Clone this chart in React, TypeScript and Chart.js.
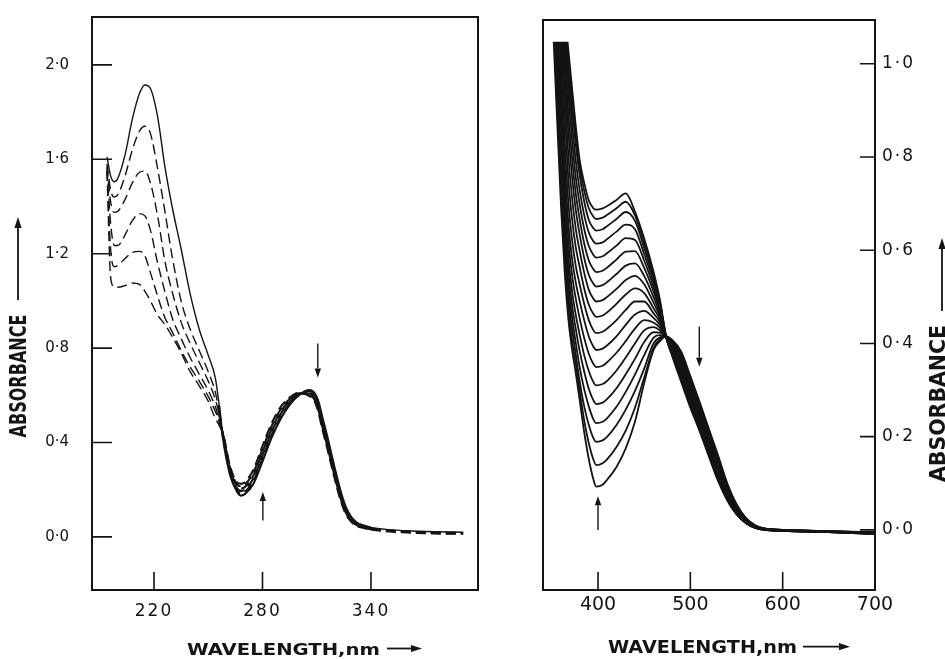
import React, { useEffect, useRef } from 'react';
import { Chart, registerables } from 'chart.js';

Chart.register(...registerables);

const INK = '#141414';
const FONT = '"DejaVu Sans", sans-serif';

// ---------------- Left panel (UV region) ----------------
const L_WAVELENGTHS = [194, 196, 198, 200, 204, 208, 212, 215, 218, 222, 226, 230, 235, 240, 245, 250, 254, 256, 258, 262, 266, 268, 270, 275, 280, 285, 290, 295, 300, 306, 309, 311, 313, 316, 320, 323, 326, 329, 332, 336, 340, 350, 360, 375, 391];
const L_SOLID = [1.61, 1.53, 1.505, 1.52, 1.62, 1.77, 1.88, 1.915, 1.90, 1.78, 1.57, 1.40, 1.22, 1.03, 0.88, 0.77, 0.67, 0.56, 0.425, 0.265, 0.19, 0.175, 0.18, 0.225, 0.32, 0.42, 0.50, 0.56, 0.60, 0.622, 0.607, 0.572, 0.51, 0.42, 0.29, 0.20, 0.128, 0.085, 0.062, 0.048, 0.040, 0.031, 0.026, 0.022, 0.020];
const L_DASH_1 = [1.58, 1.47, 1.44, 1.45, 1.53, 1.64, 1.72, 1.74, 1.71, 1.56, 1.38, 1.19, 1.00, 0.88, 0.79, 0.70, 0.61, 0.53, 0.43, 0.272, 0.198, 0.185, 0.19, 0.237, 0.333, 0.432, 0.51, 0.566, 0.602, 0.617, 0.600, 0.563, 0.50, 0.41, 0.281, 0.192, 0.122, 0.081, 0.059, 0.046, 0.038, 0.029, 0.024, 0.020, 0.018];
const L_DASH_2 = [1.57, 1.42, 1.375, 1.38, 1.43, 1.50, 1.545, 1.55, 1.50, 1.36, 1.17, 1.04, 0.91, 0.82, 0.74, 0.66, 0.58, 0.52, 0.435, 0.279, 0.206, 0.195, 0.20, 0.249, 0.346, 0.444, 0.52, 0.572, 0.604, 0.612, 0.593, 0.554, 0.49, 0.40, 0.272, 0.184, 0.116, 0.077, 0.056, 0.044, 0.036, 0.028, 0.023, 0.019, 0.017];
const L_DASH_3 = [1.56, 1.33, 1.235, 1.235, 1.28, 1.34, 1.37, 1.36, 1.30, 1.16, 1.04, 0.93, 0.84, 0.76, 0.69, 0.62, 0.55, 0.50, 0.438, 0.286, 0.214, 0.205, 0.21, 0.261, 0.359, 0.456, 0.53, 0.578, 0.606, 0.607, 0.586, 0.545, 0.48, 0.39, 0.263, 0.176, 0.11, 0.073, 0.053, 0.042, 0.034, 0.026, 0.021, 0.017, 0.015];
const L_DASH_4 = [1.55, 1.22, 1.145, 1.15, 1.18, 1.205, 1.21, 1.19, 1.12, 1.02, 0.93, 0.87, 0.79, 0.72, 0.66, 0.595, 0.53, 0.49, 0.441, 0.293, 0.222, 0.215, 0.22, 0.273, 0.372, 0.468, 0.54, 0.584, 0.608, 0.602, 0.579, 0.536, 0.47, 0.38, 0.254, 0.168, 0.104, 0.069, 0.05, 0.040, 0.032, 0.024, 0.019, 0.015, 0.013];
const L_DASH_5 = [1.55, 1.10, 1.06, 1.058, 1.065, 1.076, 1.07, 1.04, 1.00, 0.94, 0.90, 0.85, 0.78, 0.70, 0.64, 0.575, 0.50, 0.475, 0.444, 0.30, 0.23, 0.225, 0.23, 0.285, 0.385, 0.48, 0.55, 0.59, 0.61, 0.597, 0.572, 0.527, 0.46, 0.37, 0.245, 0.16, 0.098, 0.065, 0.047, 0.038, 0.030, 0.022, 0.017, 0.013, 0.012];
const L_X_TICKS = [220, 280, 340];
const L_Y_TICKS = [0, 0.4, 0.8, 1.2, 1.6, 2.0];
const L_ARROW_WL = [310.6, 280.2];
const L_ARROW_FROM = [0.82, 0.07];
const L_ARROW_TO = [0.675, 0.19];

// ---------------- Right panel (visible region) ----------------
const R_WAVELENGTHS = [360, 364, 368, 372, 376, 380, 385, 390, 395, 398, 405, 410, 420, 430, 440, 450, 460, 467, 474, 480, 490, 500, 510, 520, 530, 540, 550, 560, 570, 580, 600, 650, 700];
const R_START_WL = [352, 353, 354, 355, 355.5, 356, 357, 358, 359, 360, 361, 362, 362.5, 363.5, 364.5, 365, 366, 367];
const R_CAP = 1.047;
const R_SCAN_00 = [0.69, 0.55, 0.45, 0.385, 0.335, 0.28, 0.21, 0.152, 0.108, 0.093, 0.097, 0.108, 0.135, 0.175, 0.232, 0.315, 0.385, 0.405, 0.415, 0.408, 0.383, 0.330, 0.275, 0.217, 0.160, 0.100, 0.055, 0.026, 0.010, 0.003, 0.000, -0.003, -0.005];
const R_SCAN_01 = [0.725, 0.58, 0.475, 0.405, 0.355, 0.30, 0.235, 0.186, 0.151, 0.139, 0.143, 0.152, 0.178, 0.213, 0.262, 0.327, 0.39, 0.409, 0.415, 0.406, 0.379, 0.326, 0.271, 0.214, 0.157, 0.098, 0.054, 0.025, 0.010, 0.003, 0.000, -0.003, -0.005];
const R_SCAN_02 = [0.76, 0.61, 0.50, 0.43, 0.375, 0.32, 0.265, 0.225, 0.197, 0.189, 0.192, 0.20, 0.225, 0.258, 0.298, 0.346, 0.40, 0.413, 0.415, 0.404, 0.375, 0.322, 0.268, 0.210, 0.154, 0.096, 0.052, 0.025, 0.009, 0.003, 0.000, -0.003, -0.006];
const R_SCAN_03 = [0.79, 0.635, 0.525, 0.455, 0.40, 0.35, 0.302, 0.265, 0.237, 0.229, 0.232, 0.24, 0.264, 0.296, 0.333, 0.375, 0.412, 0.418, 0.414, 0.402, 0.372, 0.318, 0.264, 0.207, 0.150, 0.093, 0.051, 0.024, 0.009, 0.002, 0.000, -0.003, -0.006];
const R_SCAN_04 = [0.82, 0.665, 0.555, 0.48, 0.43, 0.385, 0.34, 0.303, 0.278, 0.270, 0.273, 0.281, 0.304, 0.334, 0.367, 0.403, 0.424, 0.423, 0.414, 0.400, 0.368, 0.314, 0.260, 0.203, 0.147, 0.091, 0.050, 0.023, 0.009, 0.002, 0.000, -0.003, -0.006];
const R_SCAN_05 = [0.86, 0.70, 0.585, 0.51, 0.46, 0.42, 0.375, 0.341, 0.317, 0.310, 0.313, 0.32, 0.342, 0.37, 0.40, 0.428, 0.435, 0.428, 0.414, 0.398, 0.364, 0.310, 0.257, 0.200, 0.144, 0.089, 0.049, 0.022, 0.008, 0.002, -0.001, -0.003, -0.006];
const R_SCAN_06 = [0.91, 0.74, 0.62, 0.545, 0.495, 0.455, 0.412, 0.378, 0.356, 0.349, 0.352, 0.36, 0.38, 0.405, 0.432, 0.45, 0.445, 0.434, 0.413, 0.396, 0.360, 0.306, 0.253, 0.196, 0.141, 0.087, 0.047, 0.022, 0.008, 0.002, -0.001, -0.004, -0.007];
const R_SCAN_07 = [0.95, 0.78, 0.655, 0.58, 0.53, 0.492, 0.45, 0.415, 0.393, 0.386, 0.389, 0.396, 0.415, 0.44, 0.462, 0.47, 0.455, 0.44, 0.413, 0.394, 0.356, 0.302, 0.249, 0.193, 0.138, 0.085, 0.046, 0.021, 0.008, 0.002, -0.001, -0.004, -0.007];
const R_SCAN_08 = [1.0, 0.83, 0.70, 0.62, 0.565, 0.528, 0.485, 0.45, 0.428, 0.422, 0.425, 0.432, 0.45, 0.472, 0.49, 0.49, 0.465, 0.446, 0.413, 0.392, 0.352, 0.298, 0.245, 0.189, 0.134, 0.082, 0.045, 0.020, 0.007, 0.002, -0.001, -0.004, -0.007];
const R_SCAN_09 = [null, 0.89, 0.75, 0.665, 0.605, 0.565, 0.518, 0.483, 0.463, 0.457, 0.46, 0.467, 0.485, 0.505, 0.518, 0.508, 0.476, 0.452, 0.412, 0.390, 0.349, 0.294, 0.242, 0.186, 0.131, 0.080, 0.043, 0.020, 0.007, 0.001, -0.001, -0.004, -0.007];
const R_SCAN_10 = [null, 0.94, 0.80, 0.71, 0.645, 0.60, 0.552, 0.515, 0.496, 0.490, 0.493, 0.50, 0.517, 0.536, 0.545, 0.527, 0.488, 0.458, 0.412, 0.389, 0.345, 0.290, 0.238, 0.182, 0.128, 0.078, 0.042, 0.019, 0.007, 0.001, -0.001, -0.004, -0.008];
const R_SCAN_11 = [null, 0.985, 0.85, 0.755, 0.685, 0.635, 0.584, 0.547, 0.528, 0.522, 0.525, 0.532, 0.549, 0.567, 0.572, 0.545, 0.50, 0.464, 0.412, 0.387, 0.341, 0.286, 0.234, 0.179, 0.125, 0.076, 0.041, 0.018, 0.006, 0.001, -0.001, -0.004, -0.008];
const R_SCAN_12 = [null, 1.01, 0.89, 0.795, 0.72, 0.668, 0.615, 0.578, 0.559, 0.553, 0.556, 0.563, 0.58, 0.597, 0.598, 0.562, 0.512, 0.47, 0.412, 0.385, 0.337, 0.282, 0.231, 0.175, 0.121, 0.074, 0.039, 0.018, 0.006, 0.001, -0.002, -0.004, -0.008];
const R_SCAN_13 = [null, 1.03, 0.93, 0.835, 0.755, 0.70, 0.646, 0.609, 0.59, 0.584, 0.587, 0.594, 0.61, 0.626, 0.622, 0.578, 0.522, 0.475, 0.412, 0.383, 0.333, 0.278, 0.227, 0.172, 0.118, 0.072, 0.038, 0.017, 0.006, 0.001, -0.002, -0.004, -0.008];
const R_SCAN_14 = [null, null, 0.96, 0.87, 0.79, 0.73, 0.676, 0.638, 0.619, 0.614, 0.617, 0.624, 0.64, 0.655, 0.645, 0.592, 0.532, 0.48, 0.412, 0.381, 0.330, 0.274, 0.223, 0.168, 0.115, 0.069, 0.037, 0.016, 0.005, 0.001, -0.002, -0.005, -0.008];
const R_SCAN_15 = [null, null, 0.985, 0.90, 0.825, 0.762, 0.705, 0.665, 0.647, 0.642, 0.645, 0.652, 0.667, 0.682, 0.663, 0.605, 0.54, 0.485, 0.412, 0.379, 0.326, 0.270, 0.220, 0.165, 0.112, 0.067, 0.035, 0.016, 0.005, 0.000, -0.002, -0.005, -0.009];
const R_SCAN_16 = [null, null, 1.007, 0.925, 0.845, 0.78, 0.728, 0.69, 0.672, 0.667, 0.67, 0.676, 0.69, 0.704, 0.675, 0.615, 0.548, 0.49, 0.412, 0.377, 0.322, 0.266, 0.216, 0.161, 0.108, 0.065, 0.034, 0.015, 0.004, 0.000, -0.002, -0.005, -0.009];
const R_SCAN_17 = [null, null, null, 0.945, 0.865, 0.795, 0.745, 0.707, 0.69, 0.687, 0.69, 0.695, 0.708, 0.722, 0.683, 0.625, 0.555, 0.494, 0.412, 0.375, 0.318, 0.262, 0.212, 0.158, 0.105, 0.063, 0.033, 0.014, 0.004, 0.000, -0.002, -0.005, -0.009];
const R_X_TICKS = [400, 500, 600, 700];
const R_Y_TICKS = [0, 0.2, 0.4, 0.6, 0.8, 1.0];
const R_ARROW_WL = [400, 509.7];
const R_ARROW_FROM = [0.0, 0.436];
const R_ARROW_TO = [0.072, 0.35];

const fmtAbs = (v: any) => Number(v).toFixed(1).replace('.', '\u00B7');

function drawArrow(ctx: CanvasRenderingContext2D, x0: number, y0: number, x1: number, y1: number, headLen: number, headHalf: number) {
  const dx = x1 - x0, dy = y1 - y0;
  const len = Math.hypot(dx, dy) || 1;
  const ux = dx / len, uy = dy / len;
  const bx = x1 - ux * headLen, by = y1 - uy * headLen;
  ctx.beginPath();
  ctx.moveTo(x0, y0);
  ctx.lineTo(bx, by);
  ctx.stroke();
  ctx.beginPath();
  ctx.moveTo(x1, y1);
  ctx.lineTo(bx - uy * headHalf, by + ux * headHalf);
  ctx.lineTo(bx + uy * headHalf, by - ux * headHalf);
  ctx.closePath();
  ctx.fill();
}

function drawFitText(ctx: CanvasRenderingContext2D, text: string, left: number, baseline: number, width: number, cap: number) {
  const fs = 16;
  ctx.save();
  ctx.font = `bold ${fs}px ${FONT}`;
  (ctx as any).letterSpacing = '0px';
  const m = ctx.measureText(text).width;
  ctx.translate(left, baseline);
  ctx.scale(width / m, cap / (fs * 0.729));
  ctx.textAlign = 'left';
  ctx.textBaseline = 'alphabetic';
  ctx.fillText(text, 0, 0);
  ctx.restore();
}

function drawVertText(ctx: CanvasRenderingContext2D, text: string, cx: number, cy: number, length: number, cap: number) {
  const fs = 16;
  ctx.save();
  ctx.font = `bold ${fs}px ${FONT}`;
  (ctx as any).letterSpacing = '0px';
  const m = ctx.measureText(text).width;
  ctx.translate(cx, cy);
  ctx.rotate(-Math.PI / 2);
  ctx.scale(length / m, cap / (fs * 0.729));
  ctx.textAlign = 'center';
  ctx.textBaseline = 'alphabetic';
  ctx.fillText(text, 0, (fs * 0.729) / 2);
  ctx.restore();
}

function makeDecor(d: any) {
  return {
    id: 'decor',
    beforeDraw(chart: any) {
      for (const id of Object.keys(d.spacing)) {
        const s: any = chart.scales[id];
        if (s && !s.__spaced) {
          const orig = s.drawLabels;
          s.drawLabels = function (area: any) {
            const c = this.ctx;
            c.save();
            c.letterSpacing = d.spacing[id];
            orig.call(this, area);
            c.restore();
          };
          s.__spaced = true;
        }
      }
    },
    afterDraw(chart: any) {
      const ctx: CanvasRenderingContext2D = chart.ctx;
      const a = chart.chartArea;
      const xs = chart.scales.x;
      const ys = chart.scales.y;
      const ox = d.offsetX;
      ctx.save();
      ctx.strokeStyle = INK;
      ctx.fillStyle = INK;
      ctx.setLineDash([]);
      ctx.lineWidth = 2;
      ctx.strokeRect(a.left, a.top, a.right - a.left, a.bottom - a.top);
      ctx.lineWidth = 1.6;
      ctx.beginPath();
      xs.ticks.forEach((t: any) => {
        const px = xs.getPixelForValue(t.value);
        ctx.moveTo(px, a.bottom);
        ctx.lineTo(px, a.bottom - d.xTickLen);
      });
      ys.ticks.forEach((t: any) => {
        const py = ys.getPixelForValue(t.value);
        const x0 = d.yRight ? a.right : a.left;
        const x1 = d.yRight ? a.right - d.yTickLen : a.left + d.yTickLen;
        ctx.moveTo(x0, py);
        ctx.lineTo(x1, py);
      });
      ctx.stroke();
      ctx.lineWidth = 1.4;
      d.arrowWl.forEach((wl: number, i: number) => {
        const px = xs.getPixelForValue(wl);
        drawArrow(ctx, px, ys.getPixelForValue(d.arrowFrom[i]), px, ys.getPixelForValue(d.arrowTo[i]), 9, 3.2);
      });
      const xt = d.xTitle;
      drawFitText(ctx, xt.text, xt.left - ox, xt.baseline, xt.width, xt.cap);
      ctx.lineWidth = 1.8;
      drawArrow(ctx, xt.arrowFrom - ox, xt.arrowY, xt.arrowTo - ox, xt.arrowY, 11, 3.6);
      const yt = d.yTitle;
      drawVertText(ctx, yt.text, yt.cx - ox, yt.cy, yt.length, yt.cap);
      drawArrow(ctx, yt.arrowX - ox, yt.arrowFrom, yt.arrowX - ox, yt.arrowTo, 11, 3.6);
      ctx.restore();
    },
  };
}

const noPad = (s: any) => {
  s.paddingTop = 0;
  s.paddingBottom = 0;
  s.paddingLeft = 0;
  s.paddingRight = 0;
};

function leftConfig(): any {
  const curves = [L_SOLID, L_DASH_1, L_DASH_2, L_DASH_3, L_DASH_4, L_DASH_5];
  const datasets = curves.map((vals, i) => ({
    data: L_WAVELENGTHS.map((x, j) => ({ x, y: vals[j] })),
    borderColor: INK,
    borderWidth: 1.4,
    borderDash: i === 0 ? [] : [10, 5],
    segment: {
      borderWidth: (c: any) => (c.p0.parsed.x >= 256 && c.p1.parsed.x <= 340 ? 2.1 : 1.4),
    },
    pointRadius: 0,
    fill: false,
    cubicInterpolationMode: 'monotone',
  }));
  return {
    type: 'line',
    data: { datasets },
    options: {
      responsive: false,
      animation: false,
      events: [],
      devicePixelRatio: 1,
      layout: { padding: { left: 0, top: 17, right: 22, bottom: 0 } },
      plugins: { legend: { display: false }, tooltip: { enabled: false }, title: { display: false } },
      scales: {
        x: {
          type: 'linear', position: 'bottom', min: 185.7, max: 399.2,
          afterBuildTicks: (s: any) => { s.ticks = L_X_TICKS.map((value) => ({ value })); },
          afterFit: (s: any) => { s.height = 69; noPad(s); },
          grid: { display: false, drawTicks: false },
          border: { display: false },
          ticks: { color: INK, font: { family: FONT, size: 17 }, padding: 11, maxRotation: 0, autoSkip: false, callback: (v: any) => String(v) },
        },
        y: {
          type: 'linear', position: 'left', min: -0.225, max: 2.203,
          afterBuildTicks: (s: any) => { s.ticks = L_Y_TICKS.map((value) => ({ value })); },
          afterFit: (s: any) => { s.width = 92; noPad(s); },
          grid: { display: false, drawTicks: false },
          border: { display: false },
          ticks: { color: INK, font: { family: FONT, size: 15 }, padding: 23, autoSkip: false, callback: fmtAbs },
        },
      },
    },
    plugins: [makeDecor({
      offsetX: 0, yRight: false, xTickLen: 18, yTickLen: 20,
      spacing: { x: '2px', y: '0px' },
      arrowWl: L_ARROW_WL, arrowFrom: L_ARROW_FROM, arrowTo: L_ARROW_TO,
      xTitle: { text: 'WAVELENGTH,nm', left: 187, baseline: 655, width: 193, cap: 11.7, arrowFrom: 387, arrowTo: 422, arrowY: 648.5 },
      yTitle: { text: 'ABSORBANCE', cx: 17.5, cy: 376, length: 123, cap: 17, arrowX: 18, arrowFrom: 300, arrowTo: 217 },
    })],
  };
}

function rightConfig(): any {
  const scans = [R_SCAN_00, R_SCAN_01, R_SCAN_02, R_SCAN_03, R_SCAN_04, R_SCAN_05, R_SCAN_06, R_SCAN_07, R_SCAN_08, R_SCAN_09, R_SCAN_10, R_SCAN_11, R_SCAN_12, R_SCAN_13, R_SCAN_14, R_SCAN_15, R_SCAN_16, R_SCAN_17];
  const datasets = scans.map((vals, i) => ({
    data: [{ x: R_START_WL[i], y: R_CAP }].concat(
      R_WAVELENGTHS.map((x, j) => ({ x, y: vals[j] as any })).filter((p) => p.y !== null)
    ),
    borderColor: INK,
    borderWidth: 1.8,
    pointRadius: 0,
    fill: false,
    cubicInterpolationMode: 'monotone',
  }));
  return {
    type: 'line',
    data: { datasets },
    options: {
      responsive: false,
      animation: false,
      events: [],
      devicePixelRatio: 1,
      layout: { padding: { left: 43, top: 20, right: 0, bottom: 0 } },
      plugins: { legend: { display: false }, tooltip: { enabled: false }, title: { display: false } },
      scales: {
        x: {
          type: 'linear', position: 'bottom', min: 340.4, max: 700,
          afterBuildTicks: (s: any) => { s.ticks = R_X_TICKS.map((value) => ({ value })); },
          afterFit: (s: any) => { s.height = 69; noPad(s); },
          grid: { display: false, drawTicks: false },
          border: { display: false },
          ticks: { color: INK, font: { family: FONT, size: 19 }, padding: 4, maxRotation: 0, autoSkip: false, callback: (v: any) => String(v) },
        },
        y: {
          type: 'linear', position: 'right', min: -0.129, max: 1.094,
          afterBuildTicks: (s: any) => { s.ticks = R_Y_TICKS.map((value) => ({ value })); },
          afterFit: (s: any) => { s.width = 70; noPad(s); },
          grid: { display: false, drawTicks: false },
          border: { display: false },
          ticks: { color: INK, font: { family: FONT, size: 17 }, padding: 7, autoSkip: false, callback: fmtAbs },
        },
      },
    },
    plugins: [makeDecor({
      offsetX: 500, yRight: true, xTickLen: 18, yTickLen: 15,
      spacing: { x: '0px', y: '2px' },
      arrowWl: R_ARROW_WL, arrowFrom: R_ARROW_FROM, arrowTo: R_ARROW_TO,
      xTitle: { text: 'WAVELENGTH,nm', left: 608, baseline: 653, width: 189, cap: 13.3, arrowFrom: 803, arrowTo: 850, arrowY: 646.7 },
      yTitle: { text: 'ABSORBANCE', cx: 937.5, cy: 403.5, length: 157, cap: 15, arrowX: 942, arrowFrom: 311, arrowTo: 238 },
    })],
  };
}

export default function App() {
  const leftRef = useRef<HTMLCanvasElement>(null);
  const rightRef = useRef<HTMLCanvasElement>(null);

  useEffect(() => {
    document.body.style.margin = '0';
    const c1 = new Chart(leftRef.current as HTMLCanvasElement, leftConfig());
    const c2 = new Chart(rightRef.current as HTMLCanvasElement, rightConfig());
    return () => {
      c1.destroy();
      c2.destroy();
    };
  }, []);

  return (
    <div style={{ position: 'relative', width: 945, height: 659, background: '#fff', overflow: 'hidden' }}>
      <canvas ref={leftRef} width={500} height={659} style={{ position: 'absolute', left: 0, top: 0 }} />
      <canvas ref={rightRef} width={445} height={659} style={{ position: 'absolute', left: 500, top: 0 }} />
    </div>
  );
}
